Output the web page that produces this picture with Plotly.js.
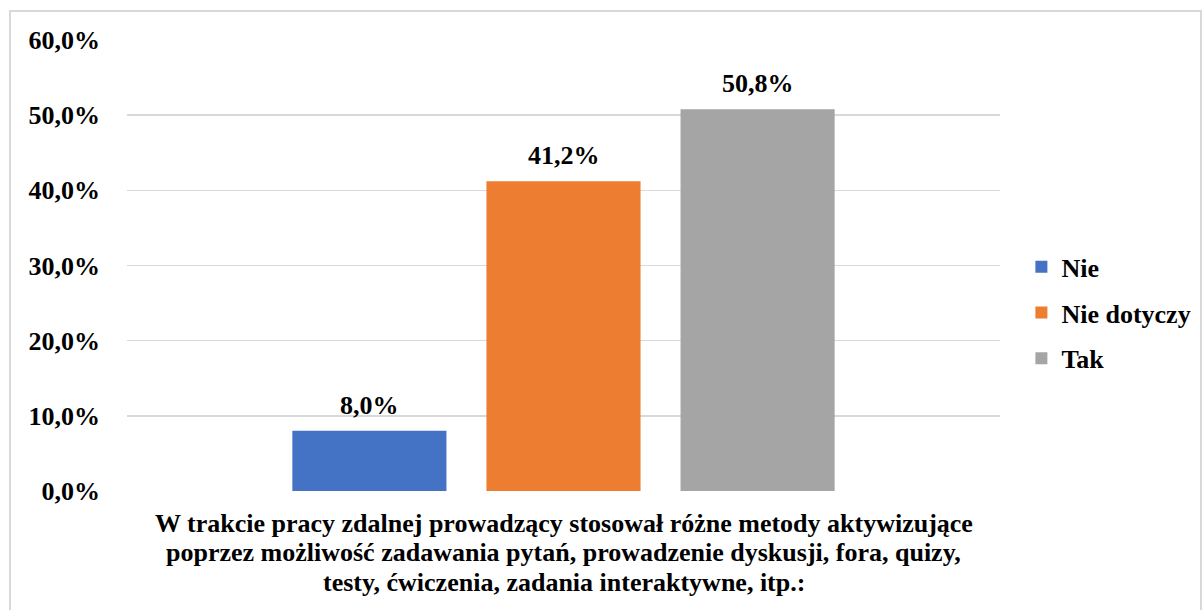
<!DOCTYPE html>
<html>
<head>
<meta charset="utf-8">
<script src="https://cdn.plot.ly/plotly-3.0.1.min.js"></script>
<style>
html,body{margin:0;padding:0;background:#fff;}
#chart{width:1202px;height:610px;}
</style>
</head>
<body>
<div id="chart"></div>
<script>
const categoryLines = [
  "W trakcie pracy zdalnej prowadzący stosował różne metody aktywizujące",
  "poprzez możliwość zadawania pytań, prowadzenie dyskusji, fora, quizy,",
  "testy, ćwiczenia, zadania interaktywne, itp.:"
];
const category = [categoryLines.join(' ')];
const seriesNames = ["Nie", "Nie dotyczy", "Tak"];
const seriesValues = [0.080, 0.412, 0.508];
const seriesColors = ["#4472C4", "#ED7D31", "#A5A5A5"];
const yTicks = [0, 0.1, 0.2, 0.3, 0.4, 0.5, 0.6];

const FONT = "Liberation Serif";
const FS = 26;
const W = 1202, H = 610;
const M = {l: 127, r: 202, t: 40, b: 119, autoexpand: false};
const bargap = 0.333;
const slot = (1 - bargap) / seriesNames.length;

const traces = seriesNames.map((name, i) => ({
  type: 'bar',
  name: name,
  x: category,
  y: [seriesValues[i]],
  marker: {color: seriesColors[i], line: {width: 0}},
  legendgroup: 'g' + i,
  hoverinfo: 'none'
}));

const txtFont = {family: FONT, size: FS, color: '#000', weight: 'bold'};

const annotations = seriesNames.map((name, i) => ({
  xref: 'x', yref: 'y',
  x: (i - (seriesNames.length - 1) / 2) * slot,
  y: seriesValues[i],
  text: (seriesValues[i] * 100).toFixed(1).replace('.', ',') + '%',
  showarrow: false,
  yanchor: 'bottom',
  yshift: 9,
  font: txtFont
}));

const lineOffsets = [-32, -61.5, -91];
categoryLines.forEach((t, j) => {
  annotations.push({
    xref: 'paper', yref: 'paper', x: 0.5, y: 0,
    xanchor: 'center', yanchor: 'middle',
    yshift: lineOffsets[j],
    text: t, showarrow: false,
    font: txtFont
  });
});

const pw = W - M.l - M.r, ph = H - M.t - M.b;
const shapes = [{
  type: 'rect', xref: 'paper', yref: 'paper',
  x0: (10 - M.l) / pw, x1: (1201 - M.l) / pw,
  y0: -(M.b + 5) / ph, y1: (H - 11 - M.b) / ph,
  line: {color: '#D9D9D9', width: 2}, fillcolor: 'rgba(0,0,0,0)', layer: 'below'
}];

const layout = {
  width: W, height: H,
  margin: M,
  paper_bgcolor: '#fff', plot_bgcolor: '#fff',
  separators: ',.',
  barmode: 'group',
  bargap: bargap,
  bargroupgap: 0.206,
  font: txtFont,
  xaxis: {
    type: 'category',
    showgrid: false, zeroline: false, showline: false, ticks: '',
    showticklabels: false,
    fixedrange: true
  },
  yaxis: {
    range: [0, 0.6],
    tickvals: yTicks,
    tickformat: '.1%',
    showgrid: true, gridcolor: '#D9D9D9', gridwidth: 1.5,
    zeroline: false, showline: false, ticks: '',
    ticklabelstandoff: 26,
    tickfont: txtFont,
    fixedrange: true
  },
  showlegend: true,
  legend: {
    x: 1.0245, xanchor: 'left', y: 0.395, yanchor: 'middle',
    traceorder: 'grouped', tracegroupgap: 9,
    font: txtFont,
    itemwidth: 30, bgcolor: 'rgba(0,0,0,0)'
  },
  annotations: annotations,
  shapes: shapes
};

Plotly.newPlot('chart', traces, layout, {displayModeBar: false, staticPlot: true});
</script>
</body>
</html>
